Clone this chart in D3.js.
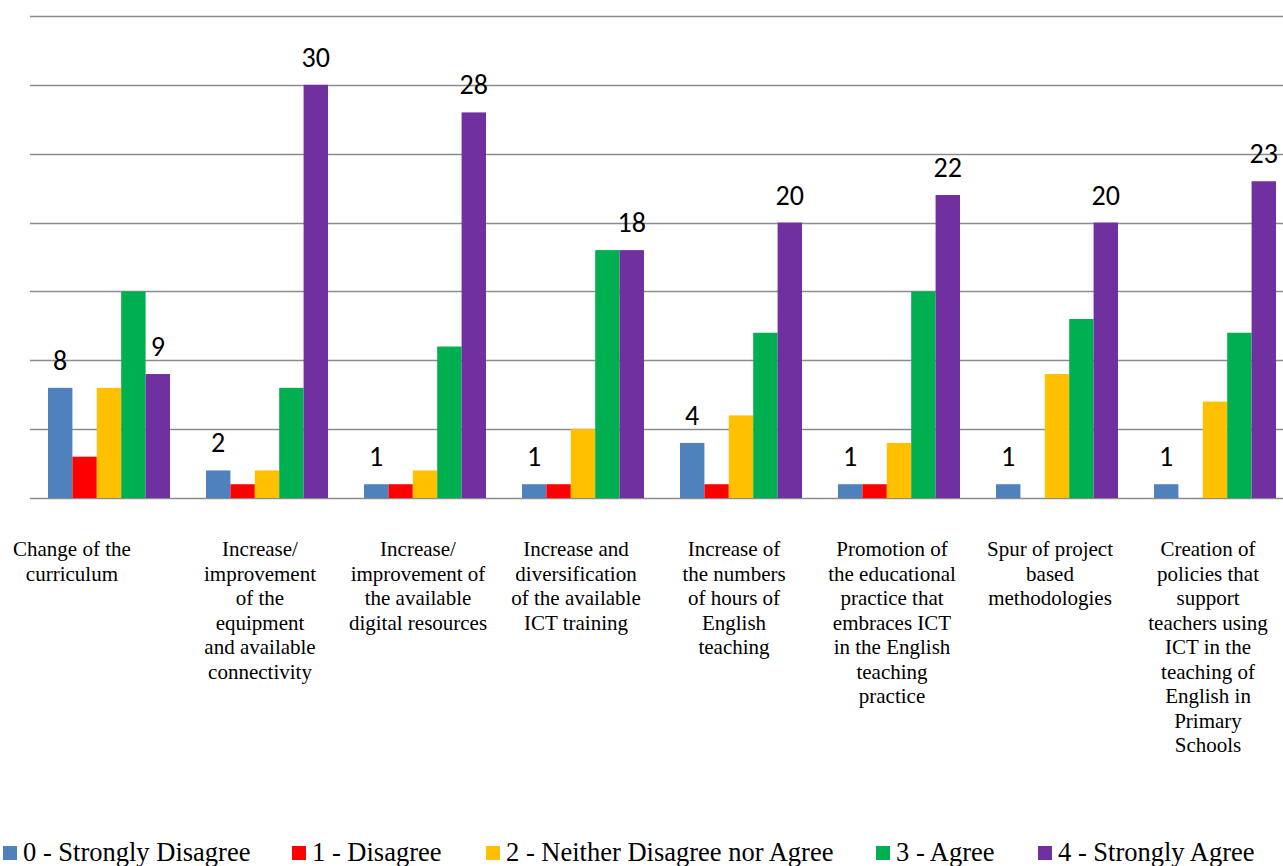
<!DOCTYPE html>
<html><head><meta charset="utf-8">
<script src="https://cdn.jsdelivr.net/npm/d3@7"></script>
<style>html,body{margin:0;padding:0;background:#fff;overflow:hidden}</style>
</head><body>
<svg id="chart" width="1283" height="866"></svg>
<script>
const categories = [
  "Change of the curriculum",
  "Increase/ improvement of the equipment and available connectivity",
  "Increase/ improvement of the available digital resources",
  "Increase and diversification of the available ICT training",
  "Increase of the numbers of hours of English teaching",
  "Promotion of the educational practice that embraces ICT in the English teaching practice",
  "Spur of project based methodologies",
  "Creation of policies that support teachers using ICT in the teaching of English in Primary Schools"
];
const categoryLines = [
  ["Change of the", "curriculum"],
  ["Increase/", "improvement", "of the", "equipment", "and available", "connectivity"],
  ["Increase/", "improvement of", "the available", "digital resources"],
  ["Increase and", "diversification", "of the available", "ICT training"],
  ["Increase of", "the numbers", "of hours of", "English", "teaching"],
  ["Promotion of", "the educational", "practice that", "embraces ICT", "in the English", "teaching", "practice"],
  ["Spur of project", "based", "methodologies"],
  ["Creation of", "policies that", "support", "teachers using", "ICT in the", "teaching of", "English in", "Primary", "Schools"]
];
const seriesNames = ["0 - Strongly Disagree", "1 - Disagree", "2 - Neither Disagree nor Agree", "3 - Agree", "4 - Strongly Agree"];
const stronglyDisagree = [8, 2, 1, 1, 4, 1, 1, 1];
const disagree         = [3, 1, 1, 1, 1, 1, 0, 0];
const neither          = [8, 2, 2, 5, 6, 4, 9, 7];
const agree            = [15, 8, 11, 18, 12, 15, 13, 12];
const stronglyAgree    = [9, 30, 28, 18, 20, 22, 20, 23];
const yTicks = [0, 5, 10, 15, 20, 25, 30, 35];
const colors = ["#4F81BD", "#FF0000", "#FFC000", "#00B050", "#7030A0"];
const labelledSeries = [0, 4];

const seriesValues = [stronglyDisagree, disagree, neither, agree, stronglyAgree];
const svg = d3.select("#chart");
const SERIF = '"Liberation Serif"';
const LABELFONT = 'Carlito';

const plotLeft = 30, plotRight = 1294, plotTop = 16, plotBottom = 498;
const y = d3.scaleLinear().domain([0, 35]).range([plotBottom, plotTop]);
const x0 = d3.scaleBand().domain(categories).range([plotLeft, plotRight]).paddingInner(0.228).paddingOuter(0.114);
const x1 = d3.scaleBand().domain(seriesNames).range([0, x0.bandwidth()]);

// gridlines
svg.append("g").selectAll("line").data(yTicks).join("line")
  .attr("x1", plotLeft).attr("x2", 1283)
  .attr("y1", d => Math.round(y(d)) + 0.5).attr("y2", d => Math.round(y(d)) + 0.5)
  .attr("stroke", "#8c8c8c").attr("stroke-width", 1.5);

// bars
const groups = svg.append("g").selectAll("g").data(categories).join("g")
  .attr("transform", d => `translate(${x0(d)},0)`);
groups.selectAll("rect").data((d, i) => seriesNames.map((s, j) => ({s, j, v: seriesValues[j][i]})))
  .join("rect")
  .attr("x", d => x1(d.s)).attr("width", x1.bandwidth())
  .attr("y", d => y(d.v)).attr("height", d => y(0) - y(d.v))
  .attr("fill", d => colors[d.j]);

// data labels
groups.selectAll("text.dl").data((d, i) => labelledSeries.map(j => ({s: seriesNames[j], v: seriesValues[j][i]})))
  .join("text").attr("class", "dl")
  .attr("x", d => x1(d.s) + x1.bandwidth() / 2)
  .attr("y", d => y(d.v) - 18)
  .attr("text-anchor", "middle")
  .style("font-family", LABELFONT)
  .style("font-size", "28px").attr("fill", "#000")
  .text(d => d.v);

// category labels
const catG = svg.append("g");
categories.forEach((c, i) => {
  const t = catG.append("text")
    .style("font-family", SERIF).style("font-size", "21px")
    .attr("fill", "#000").attr("text-anchor", "middle");
  categoryLines[i].forEach((line, k) => {
    t.append("tspan").attr("x", 0).attr("y", 556 + k * 24.5).text(line);
  });
  const w = t.node().getBBox().width;
  let cx = x0(c) + x0.bandwidth() / 2 - 7;
  if (i === 0) cx = 13 + w / 2;   // first label hugs the left margin
  t.attr("transform", `translate(${cx},0)`);
});

// legend
const legendX = [3, 292, 486, 876, 1038];
const leg = svg.append("g").selectAll("g").data(seriesNames).join("g")
  .attr("transform", (d, i) => `translate(${legendX[i]},0)`);
leg.append("rect").attr("x", 0).attr("y", 846).attr("width", 14).attr("height", 14)
  .attr("fill", (d, i) => colors[i]);
leg.append("text").attr("x", 20).attr("y", 861)
  .style("font-family", SERIF).style("font-size", "26.5px")
  .attr("fill", "#000").text(d => d);
</script>
</body></html>
